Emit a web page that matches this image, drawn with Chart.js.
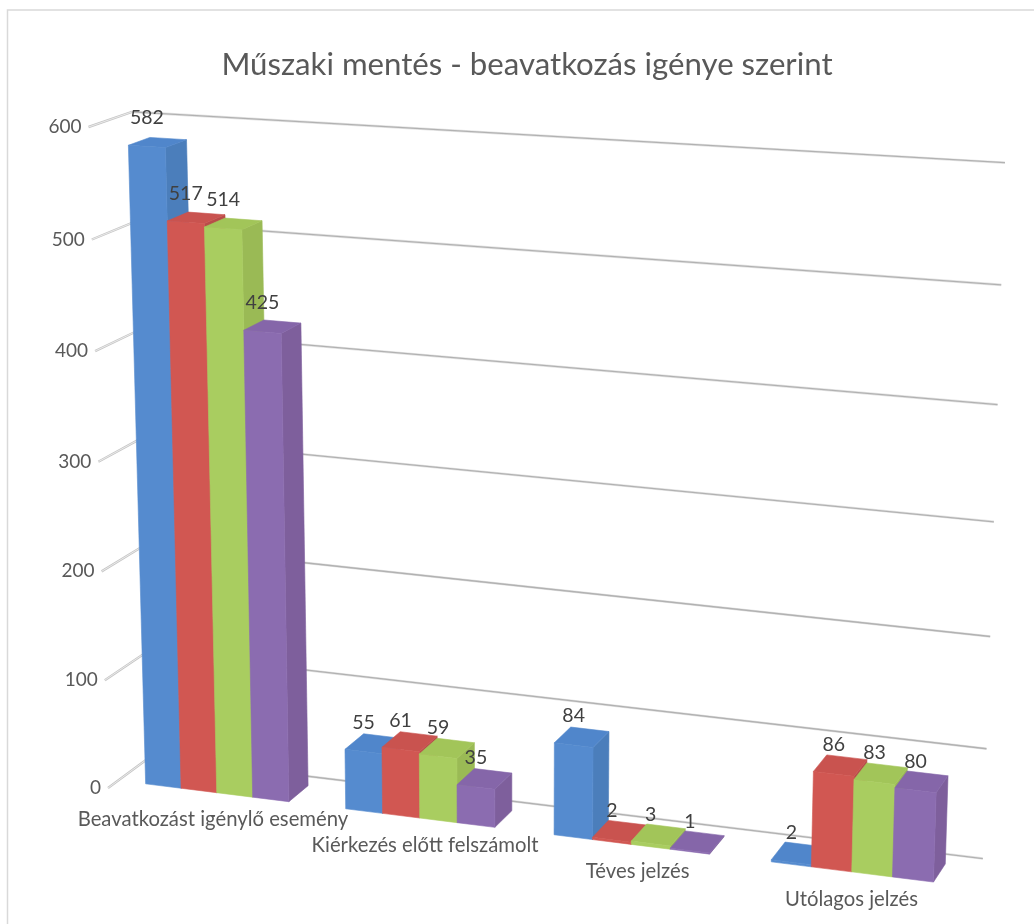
<!DOCTYPE html>
<html>
<head>
<meta charset="utf-8">
<title>Műszaki mentés</title>
<script src="https://cdn.jsdelivr.net/npm/chart.js@4"></script>
<style>
    html, body { margin: 0; background: #fff; }
    canvas { display: block; }
</style>
</head>
<body>
<canvas id="chart" width="1034" height="924"></canvas>
<script>
const chartTitle = 'Műszaki mentés - beavatkozás igénye szerint';
const categories = ['Beavatkozást igénylő esemény', 'Kiérkezés előtt felszámolt', 'Téves jelzés', 'Utólagos jelzés'];
const series1 = [582, 55, 84, 2];
const series2 = [517, 61, 2, 86];
const series3 = [514, 59, 3, 83];
const series4 = [425, 35, 1, 80];
const seriesNames = ['1. sorozat', '2. sorozat', '3. sorozat', '4. sorozat'];
const tickValues = [0, 100, 200, 300, 400, 500, 600];

// front, top and side shades of each series
const frontColors = ['#558bcf', '#d15752', '#a9cd60', '#8b6cb0'];
const topColors = ['#5086cb', '#c9534f', '#a2c559', '#8566a9'];
const sideColors = ['#4b7ebb', '#b84c49', '#9aba55', '#7e5f9c'];

// camera: where the plot box corners land on the page
const O = [108, 788], X = [960, 895], Y = [88.5, 127], Z = [150, 757];
const persU = 0.92, persV = 0.975, persW = 1.0252;
const barFront = 0.24, barBack = 0.74;
const labelNudge = [0, 8, 8, 0];

function project(chart, px, py, w) {
    const area = chart.chartArea;
    const u = (px - area.left) / (area.right - area.left);
    const v = (area.bottom - py) / (area.bottom - area.top);
    const d = 1 + u * (persU - 1) + v * (persV - 1) + w * (persW - 1);
    const pt = [0, 1].map(i =>
        (O[i] + u * (persU * X[i] - O[i]) + v * (persV * Y[i] - O[i]) + w * (persW * Z[i] - O[i])) / d);
    // small warp, the original's right wall does not quite fit one projection
    pt[0] += 19 * u * v;
    pt[1] += 2.6 * u * v + 26 * u * v * (1 - v);
    return pt;
}

function fillPoly(ctx, pts, color) {
    ctx.beginPath();
    pts.forEach((p, i) => i ? ctx.lineTo(p[0], p[1]) : ctx.moveTo(p[0], p[1]));
    ctx.closePath();
    ctx.fillStyle = color;
    ctx.strokeStyle = color;
    ctx.lineWidth = 0.6;
    ctx.fill();
    ctx.stroke();
}

function strokeLine(ctx, a, b, color, width) {
    ctx.beginPath();
    ctx.moveTo(a[0], a[1]);
    ctx.lineTo(b[0], b[1]);
    ctx.strokeStyle = color;
    ctx.lineWidth = width;
    ctx.stroke();
}

const box3d = {
    id: 'box3d',
    beforeDraw(chart) {
        const ctx = chart.ctx;
        ctx.save();
        ctx.strokeStyle = '#d9d9d9';
        ctx.lineWidth = 1.5;
        ctx.beginPath();
        ctx.moveTo(7.5, 924);
        ctx.lineTo(7.5, 10);
        ctx.lineTo(1034, 10);
        ctx.stroke();
        ctx.restore();
    },
    beforeDatasetsDraw(chart) {
        const ctx = chart.ctx;
        const xs = chart.scales.x, ys = chart.scales.y;
        const area = chart.chartArea;
        ctx.save();

        // walls
        ys.ticks.forEach(t => {
            const py = ys.getPixelForValue(t.value);
            const front = project(chart, area.left, py, 0);
            const corner = project(chart, area.left, py, 1);
            const end = project(chart, area.right, py, 1);
            strokeLine(ctx, corner, end, '#e4e4e4', 2.6);
            strokeLine(ctx, corner, end, '#b2b2b2', 1.3);
            strokeLine(ctx, front, corner, '#c6c6c6', 2.4);
            strokeLine(ctx, front, corner, '#f2f2f2', 0.8);
            ctx.font = '19px Lato';
            ctx.fillStyle = '#595959';
            ctx.textAlign = 'right';
            ctx.textBaseline = 'middle';
            ctx.fillText(t.label, front[0] - 7, front[1]);
        });

        // bars, left to right so the next one covers the side of the last
        categories.forEach((cat, c) => {
            chart.data.datasets.forEach((ds, s) => {
                const bar = chart.getDatasetMeta(s).data[c];
                const { x, y, base, width } = bar.getProps(['x', 'y', 'base', 'width']);
                const l = x - width / 2, r = x + width / 2;
                const fl = project(chart, l, base, barFront), fr = project(chart, r, base, barFront);
                const tl = project(chart, l, y, barFront), tr = project(chart, r, y, barFront);
                const bl = project(chart, l, y, barBack), br = project(chart, r, y, barBack);
                const gr = project(chart, r, base, barBack);
                fillPoly(ctx, [fr, gr, br, tr], sideColors[s]);
                fillPoly(ctx, [tl, tr, br, bl], topColors[s]);
                fillPoly(ctx, [fl, fr, tr, tl], frontColors[s]);
            });
        });

        // value labels
        ctx.font = '19.5px Lato';
        ctx.fillStyle = '#404040';
        ctx.textAlign = 'center';
        ctx.textBaseline = 'middle';
        chart.data.datasets.forEach((ds, s) => {
            chart.getDatasetMeta(s).data.forEach((bar, c) => {
                const { x, y } = bar.getProps(['x', 'y']);
                const p = project(chart, x, y, barFront);
                ctx.fillText(ds.data[c], p[0], p[1] - 29);
            });
        });

        // category labels
        ctx.font = '20.3px Lato';
        ctx.fillStyle = '#595959';
        categories.forEach((cat, c) => {
            const p = project(chart, xs.getPixelForValue(c), ys.getPixelForValue(0), 0);
            ctx.fillText(cat, p[0] + 6 + labelNudge[c], p[1] + 19);
        });

        ctx.restore();
        return false;
    }
};

new Chart(document.getElementById('chart'), {
    type: 'bar',
    data: {
        labels: categories,
        datasets: [series1, series2, series3, series4].map((values, i) => ({
            label: seriesNames[i],
            data: values,
            backgroundColor: frontColors[i],
            categoryPercentage: 0.72,
            barPercentage: 1
        }))
    },
    options: {
        responsive: false,
        animation: false,
        layout: { padding: { left: 20, top: 46 } },
        plugins: {
            legend: { display: false },
            tooltip: { enabled: false },
            title: {
                display: true,
                text: chartTitle,
                color: '#595959',
                font: { family: 'Lato', size: 31.2, weight: 'normal' },
                padding: { top: 0, bottom: 20 }
            }
        },
        scales: {
            x: { display: false },
            y: {
                display: false,
                min: tickValues[0],
                max: tickValues[tickValues.length - 1],
                ticks: { stepSize: 100 }
            }
        }
    },
    plugins: [box3d]
});
</script>
</body>
</html>
